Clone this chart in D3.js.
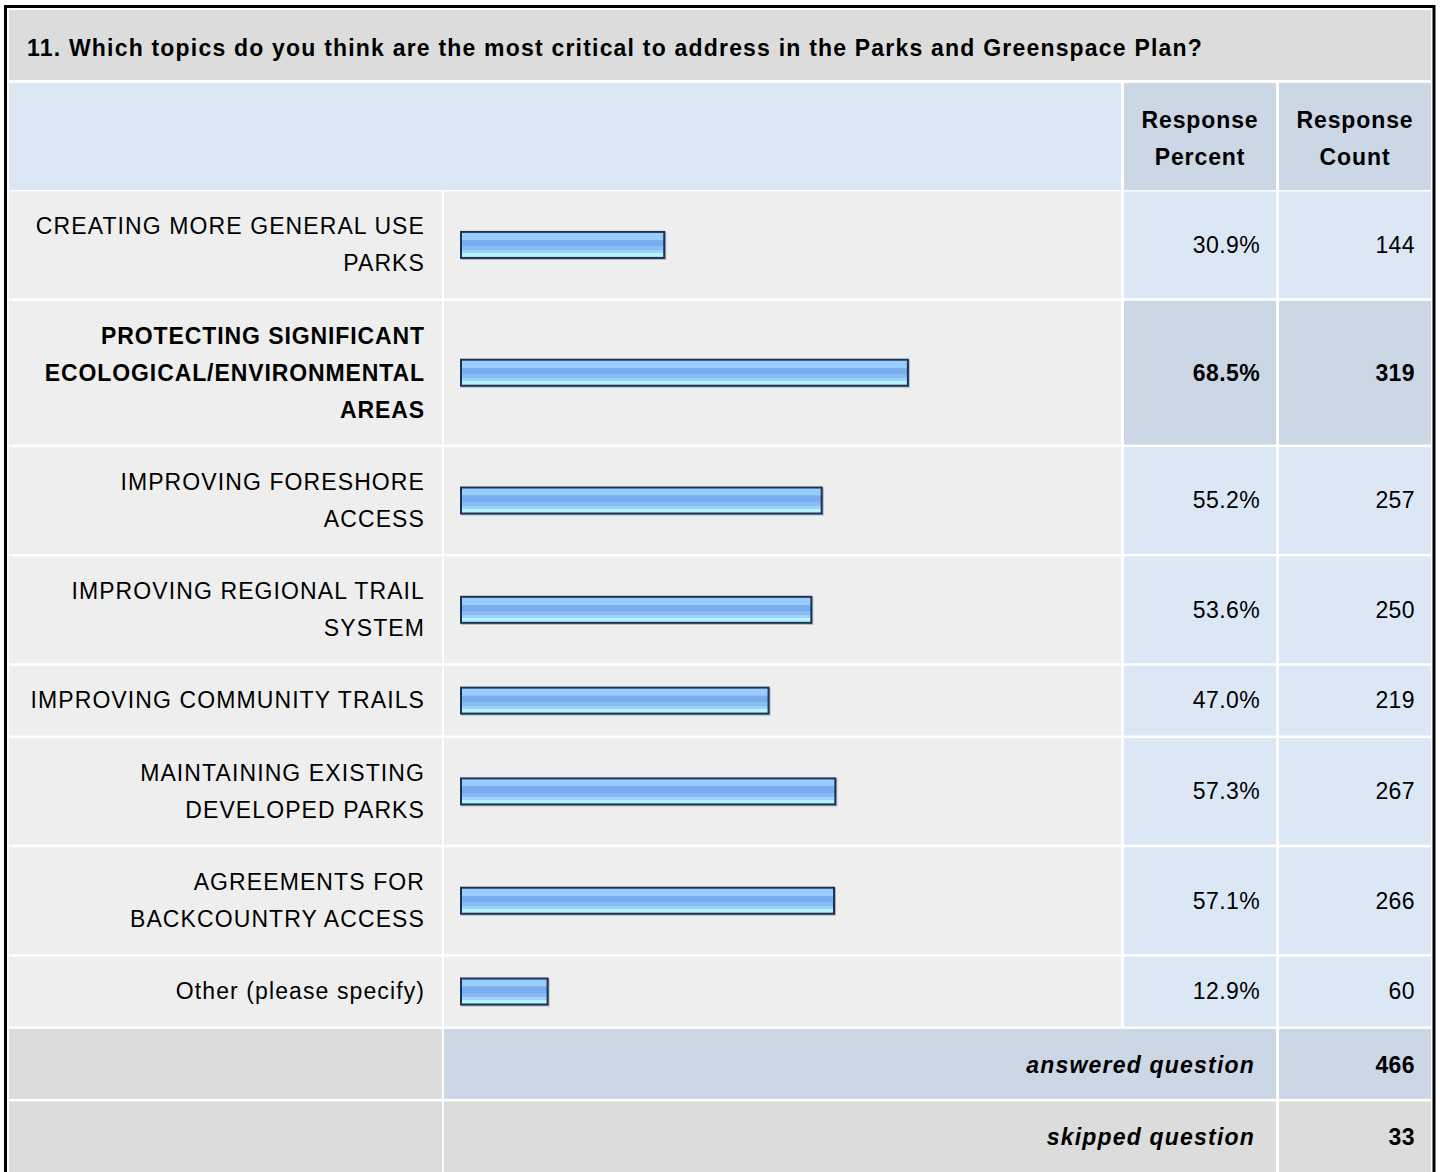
<!DOCTYPE html>
<html>
<head>
<meta charset="utf-8">
<script src="https://cdn.jsdelivr.net/npm/d3@7"></script>
<style>
  body{margin:0;background:#fff;}
  svg text{font-family:"Liberation Sans",Arial,sans-serif;fill:#000;}
  .lbl{font-size:23px;letter-spacing:1.1px;}
  .num{font-size:23px;letter-spacing:0.4px;}
  .hdr{font-size:23px;font-weight:bold;letter-spacing:0.9px;}
  .ttl{font-size:23px;font-weight:bold;letter-spacing:1.2px;}
  .foot{font-size:23px;font-weight:bold;font-style:italic;letter-spacing:1.2px;}
</style>
</head>
<body>
<div id="chart"></div>
<script>
/* Survey question 11 — response table with horizontal percent bars */
var title="11. Which topics do you think are the most critical to address in the Parks and Greenspace Plan?";
var labels=[
  ["CREATING MORE GENERAL USE","PARKS"],
  ["PROTECTING SIGNIFICANT","ECOLOGICAL/ENVIRONMENTAL","AREAS"],
  ["IMPROVING FORESHORE","ACCESS"],
  ["IMPROVING REGIONAL TRAIL","SYSTEM"],
  ["IMPROVING COMMUNITY TRAILS"],
  ["MAINTAINING EXISTING","DEVELOPED PARKS"],
  ["AGREEMENTS FOR","BACKCOUNTRY ACCESS"],
  ["Other (please specify)"]
];
var percents=[30.9,68.5,55.2,53.6,47.0,57.3,57.1,12.9];
var counts=[144,319,257,250,219,267,266,60];
var highlight=1;
var headers=[["Response","Percent"],["Response","Count"]];
var answered=466, skipped=33;

var W=1440,H=1172;
var svg=d3.select("#chart").append("svg").attr("width",W).attr("height",H);

var cols=[9,442,444,1121,1124,1276,1279,1431]; // left/right pairs
var gap=2.5, lineH=37, pad=32.8;
var cGrey="#dcdcdc", cLight="#eeeeee", cBlue="#dce7f5", cBlue2="#cbd7e5";

/* gradient for bars */
var defs=svg.append("defs");
var gr=defs.append("linearGradient").attr("id","barg").attr("x1",0).attr("y1",0).attr("x2",0).attr("y2",1);
[[0,"#99ccff"],[0.3,"#99ccff"],[0.31,"#78aeee"],[0.55,"#78aeee"],[0.56,"#88bbf4"],[0.7,"#88bbf4"],[0.71,"#9fd2ff"],[0.82,"#9fd2ff"],[0.83,"#b6f4ff"],[1,"#b6f4ff"]]
  .forEach(function(s){gr.append("stop").attr("offset",s[0]).attr("stop-color",s[1]);});

function cell(x0,x1,y0,y1,fill){
  svg.append("rect").attr("x",x0).attr("y",y0).attr("width",x1-x0).attr("height",y1-y0).attr("fill",fill);
}
function lines(arr,x,yc,anchor,cls,bold){
  var t=svg.append("text").attr("class",cls).attr("text-anchor",anchor);
  if(bold) t.style("font-weight","bold");
  if(bold && cls==="lbl") t.style("letter-spacing","0.9px");
  var y0=yc-(arr.length-1)*lineH/2;
  arr.forEach(function(s,i){
    t.append("tspan").attr("x",x).attr("y",y0+i*lineH).attr("dy","0.34em").text(s);
  });
}

/* title */
var y=10;
cell(cols[0],cols[7],y,80,cGrey);
svg.append("text").attr("class","ttl").attr("x",27).attr("y",48).attr("dy","0.34em").text(title);
y=80+gap+0.5;

/* header */
var hH=107;
cell(cols[0],cols[3],y,y+hH,cBlue);
cell(cols[4],cols[5],y,y+hH,cBlue2);
cell(cols[6],cols[7],y,y+hH,cBlue2);
lines(headers[0],(cols[4]+cols[5])/2,y+hH/2+2,"middle","hdr");
lines(headers[1],(cols[6]+cols[7])/2,y+hH/2+2,"middle","hdr");
y+=hH+gap-1;

var x=d3.scaleLinear().domain([0,100]).range([0,648]);

labels.forEach(function(lab,i){
  var h=pad+lineH*lab.length, yc=y+h/2, hi=(i===highlight);
  cell(cols[0],cols[1],y,y+h,cLight);
  cell(cols[2],cols[3],y,y+h,cLight);
  cell(cols[4],cols[5],y,y+h,hi?cBlue2:cBlue);
  cell(cols[6],cols[7],y,y+h,hi?cBlue2:cBlue);
  lines(lab,425,yc,"end","lbl",hi);
  lines([percents[i].toFixed(1)+"%"],1260,yc,"end","num",hi);
  lines([String(counts[i])],1415,yc,"end","num",hi);
  var bw=x(percents[i])+3, by=yc-13;
  svg.append("rect").attr("x",461+1).attr("y",by+1).attr("width",bw).attr("height",26)
    .attr("fill","none").attr("stroke","#8f9cad").attr("stroke-width",2).attr("opacity",0.7);
  svg.append("rect").attr("x",461).attr("y",by).attr("width",bw).attr("height",26)
    .attr("fill","url(#barg)").attr("stroke","#1b3354").attr("stroke-width",2);
  y+=h+gap;
});

/* answered / skipped */
var fH=70;
cell(cols[0],cols[1],y,y+fH,cGrey);
cell(cols[2],cols[5],y,y+fH,cBlue2);
cell(cols[6],cols[7],y,y+fH,cBlue2);
lines(["answered question"],1255,y+fH/2+1,"end","foot");
lines([String(answered)],1415,y+fH/2+1,"end","num",true);
y+=fH+gap;
cell(cols[0],cols[1],y,y+fH+20,cGrey);
cell(cols[2],cols[5],y,y+fH+20,cGrey);
cell(cols[6],cols[7],y,y+fH+20,cGrey);
lines(["skipped question"],1255,y+fH/2+1,"end","foot");
lines([String(skipped)],1415,y+fH/2+1,"end","num",true);

/* outer border */
svg.append("rect").attr("x",5.5).attr("y",6.5).attr("width",1428.5).attr("height",1200)
  .attr("fill","none").attr("stroke","#000").attr("stroke-width",3);
</script>
</body>
</html>
